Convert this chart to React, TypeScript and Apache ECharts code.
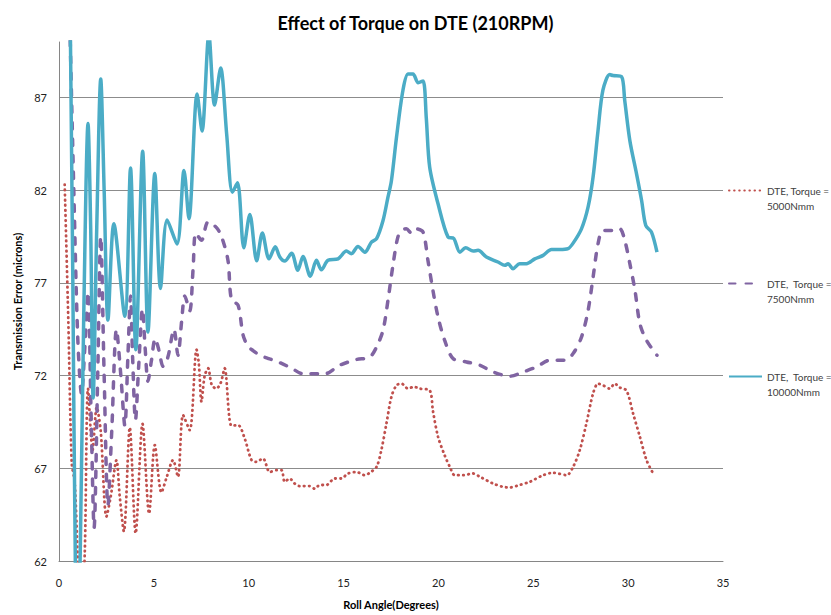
import React, { useEffect, useRef } from "react";
import * as echarts from "echarts";

const chartTitle = "Effect of Torque on DTE (210RPM)";
const xAxisTitle = "Roll Angle(Degrees)";
const yAxisTitle = "Transmission Error (microns)";
const seriesNames = ["DTE, Torque =\n5000Nmm", "DTE,  Torque =\n7500Nmm", "DTE,  Torque =\n10000Nmm"];
const seriesColors = ["#C0504D", "#8064A2", "#4BACC6"];

// [roll angle (deg), transmission error (microns)]
const dte5000: [number, number][] = [
  [0.30, 82.3], [0.49, 75], [0.67, 67.3], [0.83, 66.2], [1.04, 61.0], [1.20, 59.5], [1.36, 62.5],
  [1.53, 71.3], [1.77, 68], [1.99, 70.3], [2.20, 69], [2.50, 64.4], [2.73, 65.5], [3.03, 67.44],
  [3.20, 65.5], [3.42, 63.6], [3.73, 69.2], [4.04, 63.5], [4.40, 69.4], [4.75, 64.56], [5.05, 68.25],
  [5.40, 65.7], [5.67, 66.5], [6.01, 67.44], [6.27, 66.54], [6.54, 69.87], [6.89, 69.06], [7.25, 73.4],
  [7.37, 72.65], [7.51, 70.6], [7.68, 72.0], [7.86, 72.4], [8.05, 71.5], [8.29, 71.3], [8.52, 71.6],
  [8.73, 72.4], [9.09, 69.3], [9.44, 69.33], [9.79, 68.6], [10.15, 67.44], [10.40, 67.35], [10.75, 67.53],
  [11.11, 66.8], [11.46, 66.9], [11.73, 66.9], [11.90, 66.27], [12.16, 66.45], [12.42, 66.18], [12.69, 66.04],
  [13.21, 66.04], [13.48, 65.9], [13.74, 66.1], [14.09, 66.1], [14.53, 66.45], [14.88, 66.45], [15.23, 66.72],
  [15.68, 66.8], [16.12, 66.63], [16.38, 66.76], [16.74, 67.08], [16.99, 67.98], [17.26, 69.42], [17.52, 70.85],
  [17.79, 71.48], [18.05, 71.57], [18.40, 71.3], [18.70, 71.4], [19.02, 71.3], [19.54, 71.2], [19.71, 70.1],
  [19.98, 68.7], [20.33, 67.7], [20.60, 67.08], [20.86, 66.63], [21.30, 66.63], [21.83, 66.72], [22.19, 66.54],
  [22.88, 66.18], [23.41, 66.0], [23.76, 65.97], [24.28, 66.1], [24.81, 66.27], [25.52, 66.63], [26.05, 66.76],
  [26.76, 66.63], [27.10, 67.08], [27.45, 67.98], [27.80, 69.42], [28.15, 71.03], [28.41, 71.57], [28.67, 71.48],
  [29.03, 71.3], [29.29, 71.57], [29.56, 71.36], [29.91, 71.2], [30.26, 69.96], [30.62, 68.7], [30.97, 67.44],
  [31.32, 66.72],
];

const dte7500: [number, number][] = [
  [0.57, 91], [0.78, 82], [0.99, 74], [1.19, 71.0], [1.36, 73.5], [1.53, 76.5], [1.69, 70], [1.85, 63.8],
  [2.04, 72], [2.20, 79.5], [2.38, 72], [2.58, 65], [2.78, 69], [3.03, 74.5], [3.26, 72], [3.47, 69.3],
  [3.63, 73], [3.77, 76.3], [3.88, 73], [4.03, 69.6], [4.20, 72.5], [4.40, 75.6], [4.54, 73.5], [4.69, 71.7],
  [4.87, 72.8], [5.07, 74.0], [5.26, 73.4], [5.49, 72.5], [5.74, 73.0], [6.06, 74.5], [6.27, 73.1], [6.47, 75],
  [6.63, 76.3], [6.89, 75.5], [7.07, 77.8], [7.21, 79.7], [7.51, 79.3], [7.86, 80.3], [8.29, 80.0], [8.57, 79.5],
  [8.91, 78.2], [9.09, 76.1], [9.44, 75.8], [9.70, 74.2], [9.95, 73.6], [10.23, 73.35], [10.58, 73.1], [11.11, 72.9],
  [11.64, 72.7], [12.26, 72.4], [12.86, 72.1], [14.01, 72.1], [14.79, 72.56], [15.68, 72.87], [16.38, 73.0],
  [16.74, 73.55], [17.08, 74.45], [17.34, 76.06], [17.61, 78.0], [17.87, 79.5], [18.13, 79.87], [18.31, 79.92],
  [18.58, 79.69], [18.84, 79.92], [19.19, 79.74], [19.45, 78.2], [19.71, 76.6], [19.98, 75.16], [20.33, 73.9],
  [20.77, 72.92], [21.48, 72.74], [22.19, 72.56], [22.88, 72.2], [23.76, 71.97], [24.47, 72.2], [25.17, 72.47],
  [25.87, 72.83], [26.66, 72.83], [27.10, 73.19], [27.54, 74.08], [27.89, 75.52], [28.15, 77.3], [28.41, 79.1],
  [28.67, 79.83], [29.20, 79.83], [29.56, 79.92], [29.82, 79.3], [30.09, 78.04], [30.36, 76.6], [30.62, 74.8],
  [30.97, 73.9], [31.52, 73.1],
];

const dte10000: [number, number][] = [
  [0.60, 90.5], [0.73, 77], [0.86, 62], [0.99, 57.5], [1.12, 62.5], [1.30, 75], [1.53, 85.6], [1.67, 80],
  [1.80, 70.8], [1.99, 80], [2.20, 88.0], [2.38, 82], [2.58, 75.0], [2.89, 80.2], [3.47, 75.2], [3.77, 83.2],
  [4.05, 73.4], [4.41, 84.1], [4.69, 74.35], [5.05, 82.9], [5.35, 76.7], [5.70, 80.4], [6.22, 79.1], [6.59, 83.07],
  [6.85, 80.46], [7.28, 87.2], [7.54, 85.2], [7.90, 90.4], [8.20, 86.6], [8.52, 88.6], [8.84, 85], [9.14, 81.9],
  [9.41, 82.4], [9.74, 78.9], [10.06, 80.7], [10.42, 78.2], [10.72, 79.7], [11.07, 78.3], [11.40, 78.95],
  [11.64, 78.4], [11.90, 78.18], [12.26, 78.6], [12.59, 77.68], [12.86, 78.43], [13.25, 77.36], [13.57, 78.22],
  [13.83, 77.71], [14.18, 78.22], [14.71, 78.3], [15.15, 78.72], [15.41, 78.58], [15.76, 78.97], [16.12, 78.66],
  [16.47, 79.2], [16.74, 79.39], [17.08, 80.37], [17.34, 81.63], [17.52, 82.5], [17.79, 84.86], [18.13, 87.4],
  [18.40, 88.27], [18.66, 88.27], [18.93, 87.8], [19.19, 87.9], [19.36, 85.9], [19.54, 83.24], [19.98, 81.27],
  [20.51, 79.47], [20.81, 79.4], [21.13, 78.66], [21.44, 78.9], [21.83, 78.72], [22.09, 78.76], [22.53, 78.4],
  [23.14, 78.13], [23.50, 77.95], [23.67, 78.04], [23.93, 77.77], [24.28, 78.04], [24.64, 78.04], [25.08, 78.3],
  [25.52, 78.49], [25.96, 78.8], [26.39, 78.8], [26.83, 78.85], [27.10, 79.15], [27.54, 79.92], [27.89, 81.1],
  [28.15, 82.7], [28.41, 85.2], [28.67, 87.4], [29.03, 88.24], [29.20, 88.19], [29.65, 88.13], [29.82, 86.84],
  [30.09, 84.68], [30.44, 82.9], [30.71, 81.45], [30.93, 80.1], [31.23, 79.74], [31.52, 78.66],
];

const FONT = "Lato, 'Open Sans', sans-serif";

export default function App() {
  const ref = useRef<HTMLDivElement>(null);
  useEffect(() => {
    if (!ref.current) return;
    const chart = echarts.init(ref.current, undefined, { renderer: "svg" });
    chart.setOption({
      animation: false,
      backgroundColor: "#ffffff",
      textStyle: { fontFamily: FONT },
      title: {
        text: chartTitle,
        left: "center",
        top: 9,
        textStyle: { fontFamily: FONT, fontSize: 18, fontWeight: "bold", color: "#000" },
      },
      grid: { left: 59, right: 108, top: 42, bottom: 54, containLabel: false },
      legend: {
        orient: "vertical",
        left: 723,
        top: 163,
        itemWidth: 33,
        itemHeight: 10,
        itemGap: 48,
        data: seriesNames,
        itemStyle: { opacity: 0 },
        formatter: (name: string) => "\n" + name,
        textStyle: {
          fontFamily: FONT,
          fontSize: 10,
          color: "#404040",
          lineHeight: 15,
        },
      },
      xAxis: {
        type: "value",
        min: 0,
        max: 35,
        interval: 5,
        name: xAxisTitle,
        nameLocation: "middle",
        nameGap: 38,
        nameTextStyle: { fontFamily: FONT, fontSize: 11, fontWeight: "bold", color: "#000" },
        axisLine: { show: true, onZero: false, lineStyle: { color: "#868686", width: 1 } },
        axisTick: { show: false },
        axisLabel: { fontFamily: FONT, fontSize: 11, color: "#222", margin: 16 },
        splitLine: { show: false },
      },
      yAxis: {
        type: "value",
        min: 62,
        max: 90,
        interval: 5,
        name: yAxisTitle,
        nameLocation: "middle",
        nameRotate: 90,
        nameGap: 31,
        nameTextStyle: { fontFamily: FONT, fontSize: 11, fontWeight: "bold", color: "#000" },
        axisLine: { show: true, lineStyle: { color: "#868686", width: 1 } },
        axisTick: { show: false },
        axisLabel: { fontFamily: FONT, fontSize: 11, color: "#222", margin: 12, showMaxLabel: false },
        splitLine: { show: true, showMinLine: false, showMaxLine: false, lineStyle: { color: "#8c8c8c", width: 1 } },
      },
      series: [
        {
          name: seriesNames[0],
          type: "line",
          data: dte5000,
          smooth: 0.3,
          showSymbol: false,
          symbol: "none",
          clip: true,
          color: seriesColors[0],
          lineStyle: { color: seriesColors[0], width: 2.8, type: [0.5, 4.6], cap: "round" },
        },
        {
          name: seriesNames[1],
          type: "line",
          data: dte7500,
          smooth: 0.3,
          showSymbol: false,
          symbol: "none",
          clip: true,
          color: seriesColors[1],
          lineStyle: { color: seriesColors[1], width: 3.5, type: [6.5, 10], cap: "round" },
        },
        {
          name: seriesNames[2],
          type: "line",
          data: dte10000,
          smooth: 0.3,
          showSymbol: false,
          symbol: "none",
          clip: true,
          color: seriesColors[2],
          lineStyle: { color: seriesColors[2], width: 3.5 },
        },
      ],
    });
    return () => chart.dispose();
  }, []);
  return (
    <div
      ref={ref}
      style={{ position: "absolute", left: 0, top: 0, width: 831, height: 615, background: "#fff" }}
    />
  );
}
